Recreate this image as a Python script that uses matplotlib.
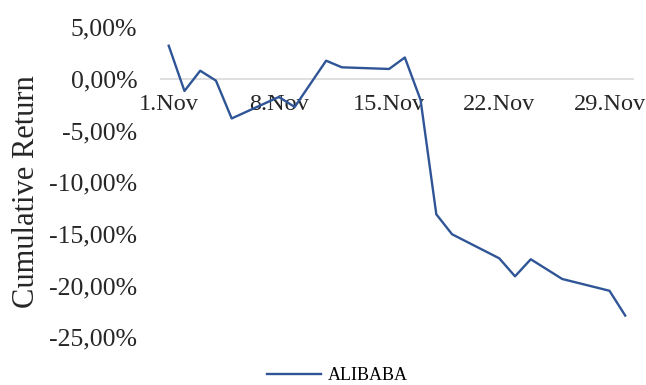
import matplotlib
matplotlib.use('Agg')
import matplotlib.pyplot as plt
from matplotlib.ticker import FuncFormatter

plt.rcParams['font.family'] = ['Liberation Serif', 'DejaVu Serif']

# trading days in November and cumulative return (%)
days = [1, 2, 3, 4, 5, 8, 9, 11, 12, 15, 16, 17, 18, 19, 22, 23, 24, 26, 29, 30]
alibaba = [3.22, -1.16, 0.80, -0.16, -3.82, -1.74, -2.71, 1.77, 1.13, 0.97,
           2.08, -2.03, -13.1, -15.03, -17.36, -19.1, -17.45, -19.36, -20.5, -22.9]
tick_days = [1, 8, 15, 22, 29]
tick_labels = ['1.Nov', '8.Nov', '15.Nov', '22.Nov', '29.Nov']
y_ticks = [5, 0, -5, -10, -15, -20, -25]

fig = plt.figure(figsize=(6.46, 3.85), dpi=100)
ax = fig.add_axes([0.249, 0.124, 0.731, 0.805])

ax.plot(days, alibaba, color='#2f5597', lw=1.7, label='ALIBABA')

ax.set_xlim(0.5, 30.5)
ax.set_ylim(-25, 5)
ax.set_xticks(tick_days)
ax.set_xticklabels(tick_labels)
ax.set_yticks(y_ticks)
ax.yaxis.set_major_formatter(FuncFormatter(lambda v, p: ('%.2f%%' % v).replace('.', ',')))

for s in ['top', 'right', 'left']:
    ax.spines[s].set_visible(False)
ax.spines['bottom'].set_position(('data', 0))
ax.spines['bottom'].set_color('#d9d9d9')
ax.spines['bottom'].set_linewidth(1.2)
ax.spines['bottom'].set_zorder(0)

ax.tick_params(axis='x', length=0, pad=11, labelsize=17.5, colors='#262626')
ax.tick_params(axis='y', length=0, pad=17, labelsize=18.5, colors='#262626')

ax.set_ylabel('Cumulative Return', fontsize=22, color='#262626')
ax.yaxis.set_label_coords(-0.253, 0.47)

ax.legend(loc='center', bbox_to_anchor=(0.522, 0.024), bbox_transform=fig.transFigure,
          frameon=False, fontsize=13, handlelength=3.0, handletextpad=0.35,
          borderpad=0, borderaxespad=0)

fig.savefig('out.png', dpi=100)
